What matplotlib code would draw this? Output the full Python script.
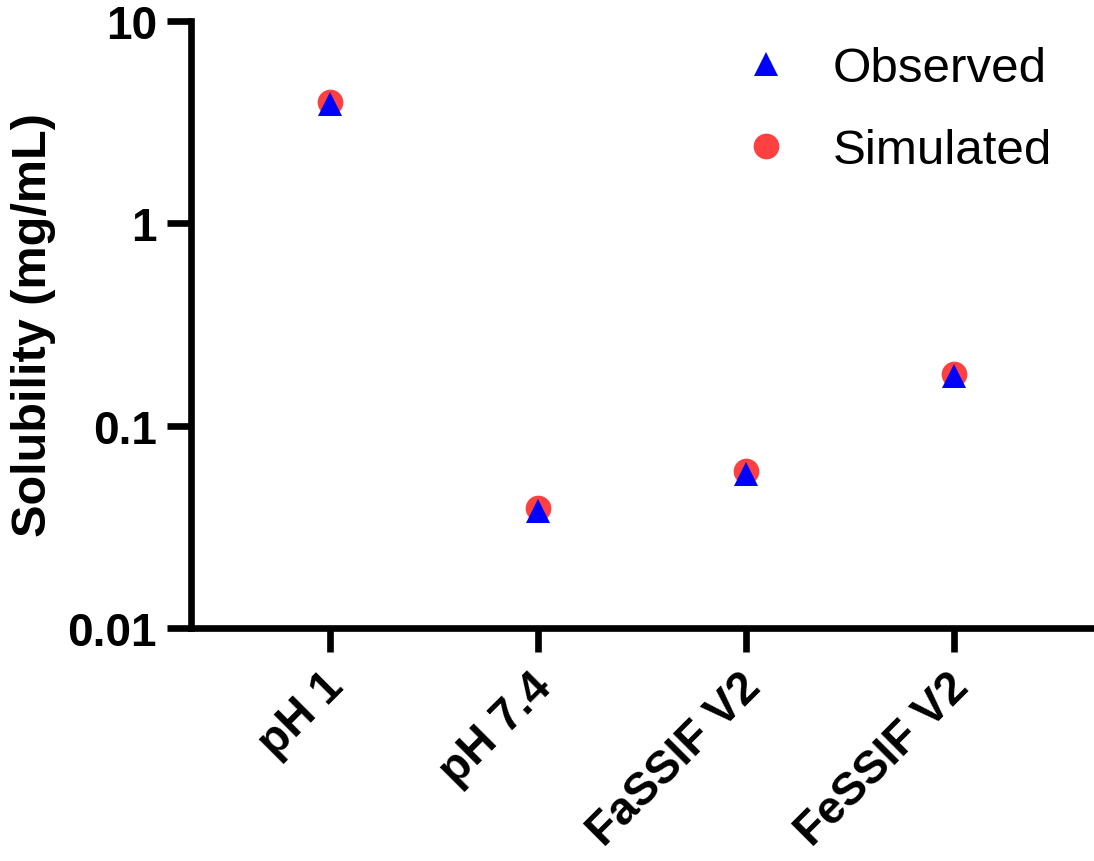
import matplotlib
matplotlib.use('Agg')
from matplotlib import pyplot as plt
from matplotlib import rc
from matplotlib.transforms import ScaledTranslation

rc('font', family='Liberation Sans')

media = ['pH 1', 'pH 7.4', 'FaSSIF V2', 'FeSSIF V2']
observed = [3.9, 0.038, 0.058, 0.175]
simulated = [4.0, 0.039, 0.060, 0.180]
yticks = [0.01, 0.1, 1, 10]
ytick_labels = ['0.01', '0.1', '1', '10']

fig = plt.figure(figsize=(10.94, 8.62), dpi=100)
ax = fig.add_axes([191 / 1094, 1 - 629 / 862, 1 - 191 / 1094, (629 - 22) / 862])

x = range(len(media))
sim, = ax.plot(x, simulated, linestyle='none', marker='o', markersize=18.5,
               color='#ff4040', markeredgewidth=0, label='Simulated', zorder=3)
obs, = ax.plot(x, observed, linestyle='none', marker='^', markersize=17,
               color='#0000ff', markeredgewidth=0, label='Observed', zorder=4)

ax.set_yscale('log')
ax.set_ylim(0.01, 10)
ax.set_xlim(-0.665, 3.67)
ax.set_yticks(yticks)
ax.set_yticklabels(ytick_labels)
ax.yaxis.set_minor_locator(matplotlib.ticker.NullLocator())
ax.set_xticks(list(x))
ax.set_xticklabels(media, rotation=45, ha='right', rotation_mode='anchor')

for side in ['top', 'right']:
    ax.spines[side].set_visible(False)
for side in ['left', 'bottom']:
    ax.spines[side].set_linewidth(4.8)
    ax.spines[side].set_capstyle('projecting')

ax.tick_params(axis='both', width=4.8, length=17.5, labelsize=33, pad=7)
for lbl in ax.get_xticklabels() + ax.get_yticklabels():
    lbl.set_fontweight('bold')
shift = ScaledTranslation(-8 / 100, -2 / 100, fig.dpi_scale_trans)
for lbl in ax.get_xticklabels():
    lbl.set_transform(lbl.get_transform() + shift)

ax.set_ylabel('Solubility (mg/mL)', fontsize=35, fontweight='bold', labelpad=8)

ax.legend([obs, sim], ['Observed', 'Simulated'], loc='upper left',
          bbox_to_anchor=(0.678, 0.945), bbox_transform=fig.transFigure,
          frameon=False, fontsize=35.5, handlelength=1.0, handletextpad=0.85,
          labelspacing=0.75, borderpad=0, borderaxespad=0)

plt.savefig('out.png', dpi=100)
